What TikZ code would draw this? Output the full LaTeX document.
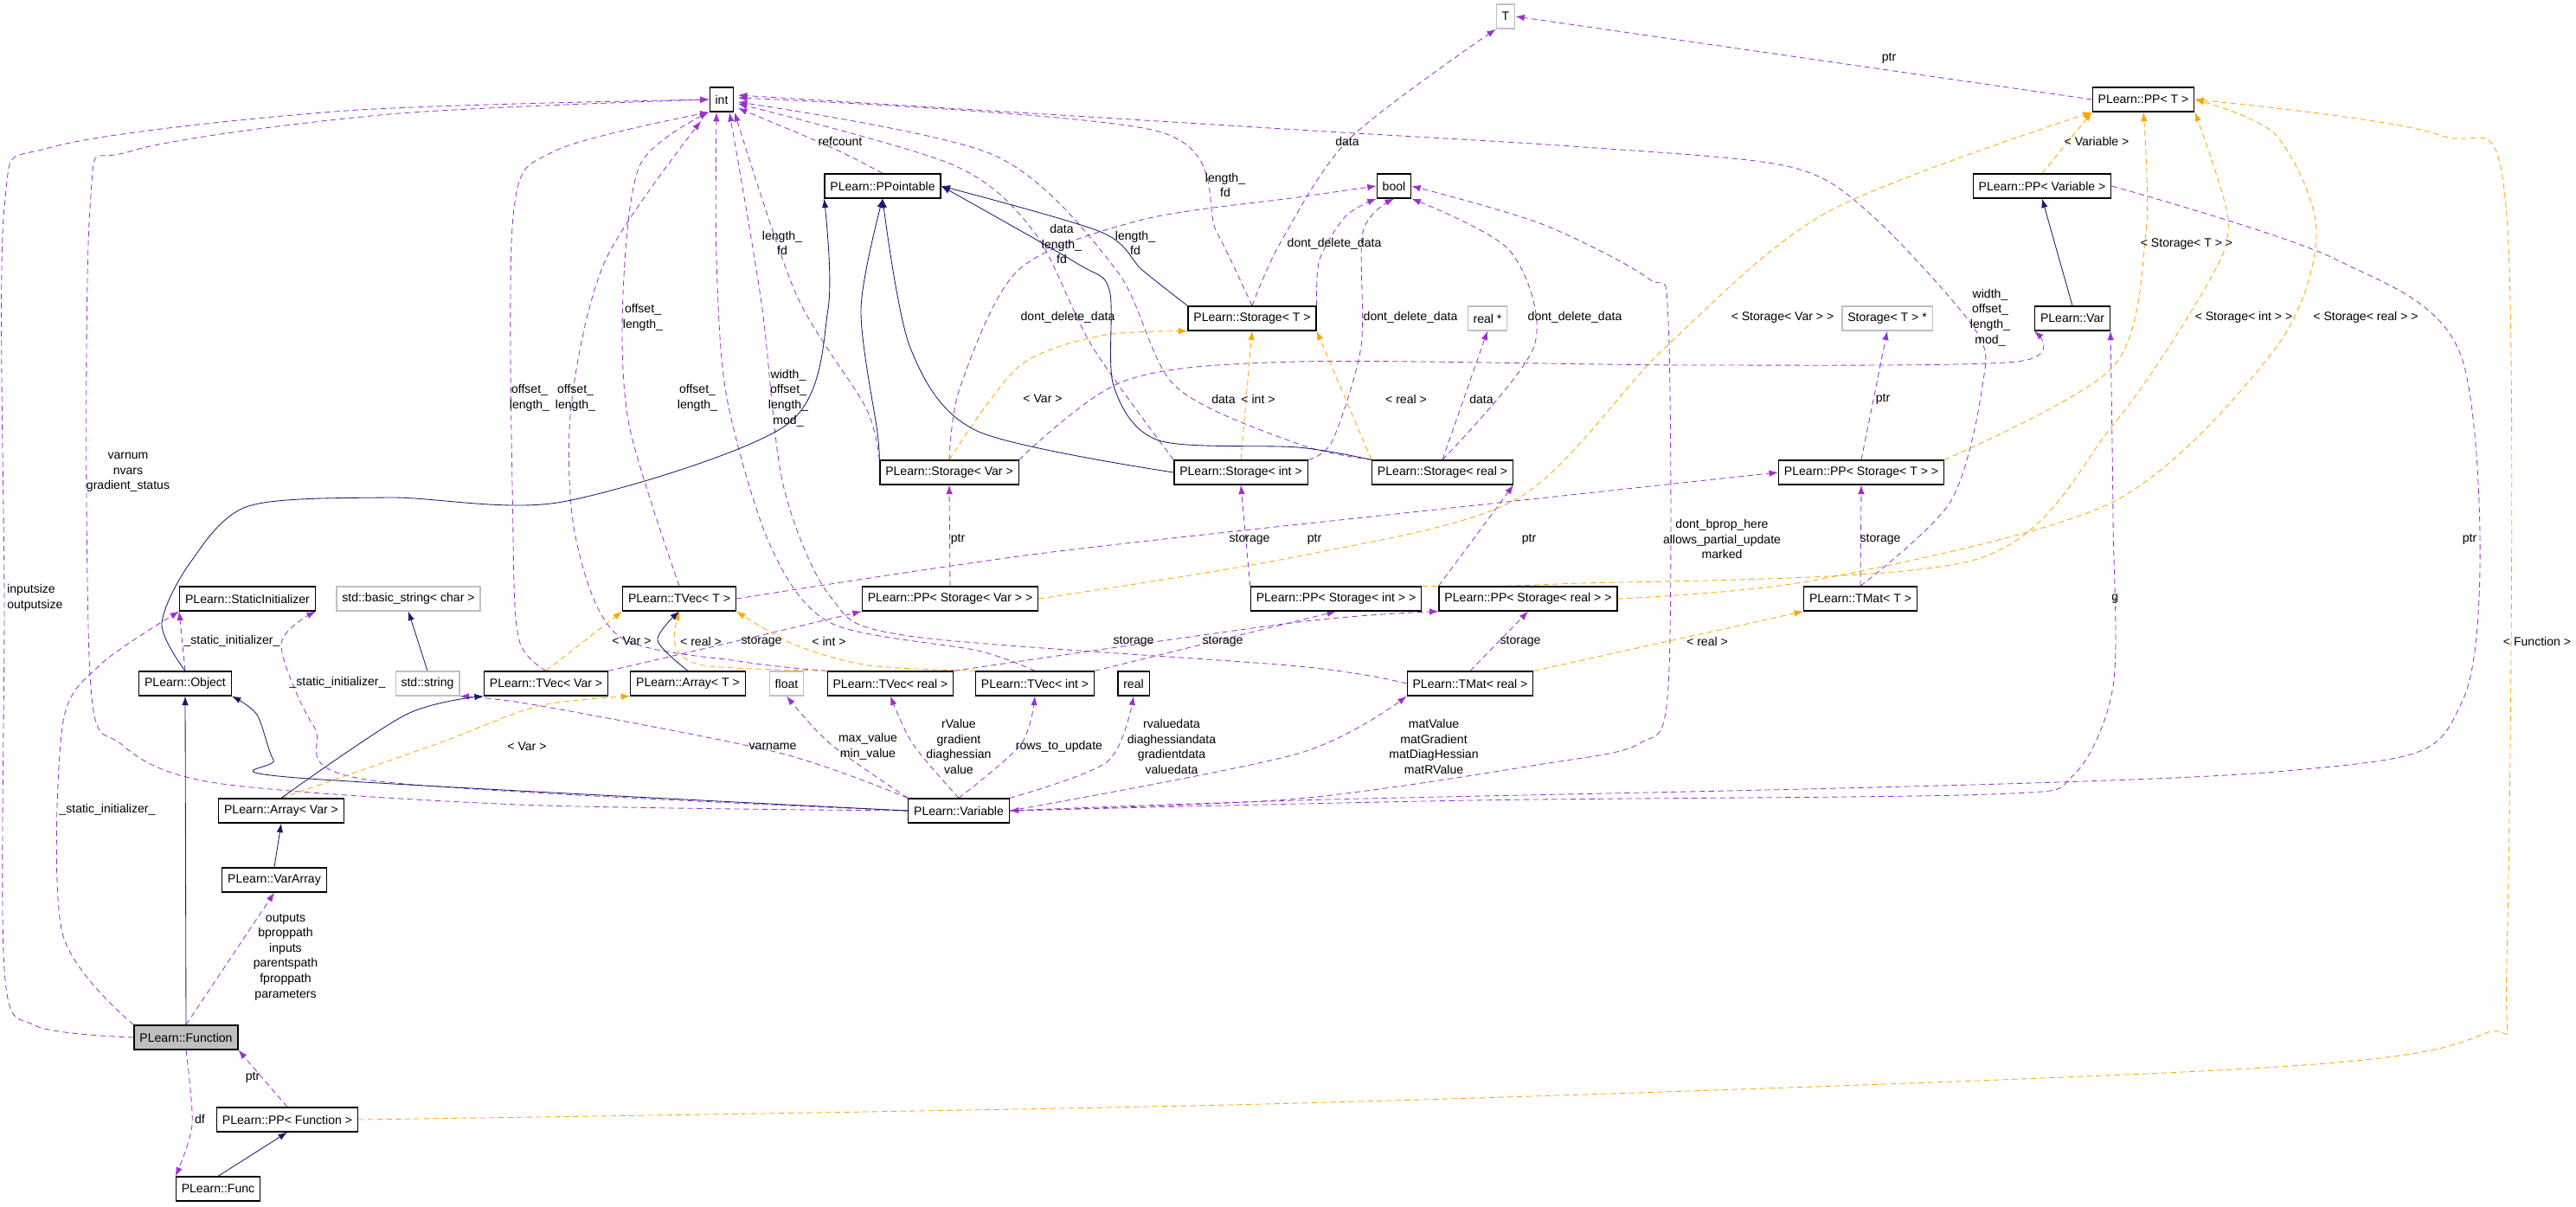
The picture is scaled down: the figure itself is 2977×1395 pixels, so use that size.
\documentclass[tikz,border=0pt]{standalone}
\usepackage{fontspec}
\setmainfont{Liberation Sans}
\usetikzlibrary{arrows.meta}
\definecolor{pc}{RGB}{154,50,205}
\definecolor{nv}{RGB}{25,25,112}
\definecolor{og}{RGB}{255,165,0}
\definecolor{gb}{RGB}{191,191,191}
\pgfdeclarelayer{edges}
\pgfsetlayers{edges,main}
\begin{document}
\begin{tikzpicture}[x=0.25mm,y=-0.25mm,
  font=\fontsize{10}{12.5}\selectfont,
  cls/.style={draw=black,line width=0.9pt,fill=white,minimum height=7mm,inner xsep=1.6mm},
  gcls/.style={draw=gb,line width=0.9pt,fill=white,minimum height=7mm,inner xsep=1.6mm},
  pe/.style={draw=pc,dashed,dash pattern=on 1.6mm off 1.1mm,line width=0.6pt,-{Latex[length=2.6mm,width=1.9mm]}},
  oe/.style={draw=og,dashed,dash pattern=on 1.6mm off 1.1mm,line width=0.6pt,-{Latex[length=2.6mm,width=1.9mm]}},
  ne/.style={draw=nv,line width=0.6pt,-{Latex[length=2.6mm,width=1.9mm]}},
  lbl/.style={align=center,inner sep=0pt},
  lbll/.style={align=left,inner sep=0pt,anchor=west}]
\useasboundingbox (0,0) rectangle (2977,1395);
% nodes
\node[cls] (int) at (834,115) {int};
\node[gcls] (T) at (1740,19) {T};
\node[cls] (ppT) at (2477,115) {PLearn::PP< T >};
\node[cls] (ppt) at (1020,215) {PLearn::PPointable};
\node[cls] (bool) at (1611,215) {bool};
\node[cls] (ppVariable) at (2360,215) {PLearn::PP< Variable >};
\node[cls] (stT) at (1447,368) {PLearn::Storage< T >};
\node[gcls] (realp) at (1719,368) {real *};
\node[gcls] (stTp) at (2181,368) {Storage< T > *};
\node[cls] (Var) at (2395,368) {PLearn::Var};
\node[cls] (stVar) at (1097,546) {PLearn::Storage< Var >};
\node[cls] (stInt) at (1434,546) {PLearn::Storage< int >};
\node[cls] (stReal) at (1667,546) {PLearn::Storage< real >};
\node[cls] (ppStT) at (2151,546) {PLearn::PP< Storage< T > >};
\node[cls] (si) at (286,692) {PLearn::StaticInitializer};
\node[gcls] (bstr) at (472,692) {std::basic\_string< char >};
\node[cls] (tvT) at (785,692) {PLearn::TVec< T >};
\node[cls] (ppStVar) at (1098,692) {PLearn::PP< Storage< Var > >};
\node[cls] (ppStInt) at (1544,692) {PLearn::PP< Storage< int > >};
\node[cls] (ppStReal) at (1766,692) {PLearn::PP< Storage< real > >};
\node[cls] (tmT) at (2150,692) {PLearn::TMat< T >};
\node[cls] (obj) at (214,790) {PLearn::Object};
\node[gcls] (str) at (494,790) {std::string};
\node[cls] (tvVar) at (631,790) {PLearn::TVec< Var >};
\node[cls] (arrT) at (795,790) {PLearn::Array< T >};
\node[gcls] (float) at (909,790) {float};
\node[cls] (tvReal) at (1029,790) {PLearn::TVec< real >};
\node[cls] (tvInt) at (1196,790) {PLearn::TVec< int >};
\node[cls] (real) at (1310,790) {real};
\node[cls] (tmReal) at (1699,790) {PLearn::TMat< real >};
\node[cls] (arrVar) at (325,937) {PLearn::Array< Var >};
\node[cls] (variable) at (1108,937) {PLearn::Variable};
\node[cls] (varArray) at (317,1017) {PLearn::VarArray};
\node[cls,fill=gb] (func) at (215,1199) {PLearn::Function};
\node[cls] (ppFunc) at (332,1294) {PLearn::PP< Function >};
\node[cls] (Func) at (252,1374) {PLearn::Func};

\begin{pgfonlayer}{edges}
% ---- purple edges ----
\draw[pe] plot[smooth,tension=0.5] coordinates {(func.west) (40,1185) (5,1120) (5,700) (5,240) (60,170) (400,128) (int.west)};
\draw[pe] plot[smooth,tension=0.5] coordinates {(variable.west) (600,930) (250,905) (140,860) (104,780) (104,240) (150,175) (450,132) (int.west)};
\draw[pe] plot[smooth,tension=0.5] coordinates {(tvVar.north) (600,740) (593,620) (593,250) (640,175) (int.south west)};
\draw[pe] plot[smooth,tension=0.5] coordinates {(tvReal.north west) (860,765) (715,735) (665,620) (660,470) (700,300) (810,140)};
\draw[pe] plot[smooth,tension=0.5] coordinates {(tvT.north) (727,491) (720,340) (740,190) (819,130)};
\draw[pe] plot[smooth,tension=0.5] coordinates {(tvInt.north) (1130,752) (960,720) (890,630) (840,460) (828,300) (828,130)};
\draw[pe] plot[smooth,tension=0.5] coordinates {(tmReal.west) (1500,770) (1050,735) (960,690) (905,560) (880,350) (843,130)};
\draw[pe] plot[smooth,tension=0.5] coordinates {(stVar.north west) (1000,470) (920,340) (849,130)};
\draw[pe] plot[smooth,tension=0.5] coordinates {(stInt.north west) (1262,400) (1195,268) (1100,190) (853,120)};
\draw[pe] plot[smooth,tension=0.5] coordinates {(stReal.north west) (1500,513) (1358,446) (1290,312) (1148,179) (853,118)};
\draw[pe] plot[smooth,tension=0.5] coordinates {(stT.north) (1406,268) (1339,152) (853,113)};
\draw[pe] plot[smooth,tension=0.5] coordinates {(ppt.north) (960,170) (853,125)};
\draw[pe] plot[smooth,tension=0.5] coordinates {(tmT.north) (2254,580) (2291,446) (2282,380) (2159,245) (2065,192) (1830,170) (1500,150) (853,110)};
\draw[pe] plot[smooth,tension=0.5] coordinates {(stT.north) (1480,280) (1560,160) (T.south west)};
\draw[pe] (ppT.west) -- (T.east);
\draw[pe] plot[smooth,tension=0.5] coordinates {(stVar.north) (1110,446) (1177,312) (1320,254) (1500,228) (bool.west)};
\draw[pe] plot[smooth,tension=0.5] coordinates {(stT.north east) (1525,300) (1555,250) (bool.south west)};
\draw[pe] plot[smooth,tension=0.5] coordinates {(stInt.north east) (1540,509) (1573,400) (1575,268) (bool.south)};
\draw[pe] plot[smooth,tension=0.5] coordinates {(stReal.north) (1773,400) (1745,290) (bool.south east)};
\draw[pe] (stReal.north) -- (realp.south);
\draw[pe] plot[smooth,tension=0.5] coordinates {(stVar.north east) (1300,440) (1500,418) (1960,422) (2330,418) (Var.south west)};
\draw[pe] (ppStVar.north) -- (stVar.south);
\draw[pe] (ppStInt.north west) -- (stInt.south);
\draw[pe] (ppStReal.north west) -- (stReal.south east);
\draw[pe] (ppStT.north) -- (stTp.south);
\draw[pe] plot[smooth,tension=0.5] coordinates {(tvT.east) (1200,640) (1650,590) (ppStT.west)};
\draw[pe] (tmT.north) -- (ppStT.south);
\draw[pe] plot[smooth,tension=0.5] coordinates {(ppVariable.east) (2700,300) (2847,420) (2847,807) (2630,892) (1500,925) (variable.east)};
\draw[pe] plot[smooth,tension=0.5] coordinates {(variable.east) (1700,925) (2300,918) (2395,897) (2442,793) (2442,600) (Var.south east)};
\draw[pe] plot[smooth,tension=0.5] coordinates {(variable.east) (1500,923) (1783,883) (1895,859) (1928,793) (1928,370) (1905,322) (1782,259) (bool.east)};
\draw[pe] plot[smooth,tension=0.5] coordinates {(variable.north west) (960,860) (float.south)};
\draw[pe] plot[smooth,tension=0.5] coordinates {(variable.north) (1055,860) (tvReal.south)};
\draw[pe] plot[smooth,tension=0.5] coordinates {(variable.north) (1180,860) (tvInt.south)};
\draw[pe] plot[smooth,tension=0.5] coordinates {(variable.north east) (1280,880) (real.south)};
\draw[pe] plot[smooth,tension=0.5] coordinates {(variable.east) (1500,871) (tmReal.south west)};
\draw[pe] plot[smooth,tension=0.5] coordinates {(variable.north west) (900,870) (620,815) (str.south east)};
\draw[pe] plot[smooth,tension=0.5] coordinates {(variable.west) (430,902) (363,840) (325,745) (si.south east)};
\draw[pe] (obj.north) -- (si.south west);
\draw[pe] plot[smooth,tension=0.5] coordinates {(func.north west) (72,1078) (72,840) (115,769) (si.south west)};
\draw[pe] (func.north) -- (varArray.south);
\draw[pe] (ppFunc.north) -- (func.south east);
\draw[pe] plot[smooth,tension=0.5] coordinates {(func.south) (222,1300) (Func.north west)};
\draw[pe] plot[smooth,tension=0.5] coordinates {(tvVar.north east) (855,740) (ppStVar.south west)};
\draw[pe] plot[smooth,tension=0.5] coordinates {(tvReal.north east) (1500,719) (ppStReal.south west)};
\draw[pe] (tvInt.north east) -- (ppStInt.south);
\draw[pe] (tmReal.north) -- (ppStReal.south);

% ---- orange edges ----
\draw[oe] (ppVariable.north) -- (ppT.south west);
\draw[oe] plot[smooth,tension=0.5] coordinates {(ppStT.north east) (2442,424) (2480,268) (ppT.south)};
\draw[oe] plot[smooth,tension=0.5] coordinates {(ppStVar.east) (1500,643) (1754,576) (1924,402) (2112,245) (ppT.south west)};
\draw[oe] plot[smooth,tension=0.5] coordinates {(ppStInt.north east) (1800,675) (2282,647) (2442,491) (2550,330) (2575,255) (ppT.south east)};
\draw[oe] plot[smooth,tension=0.5] coordinates {(ppStReal.east) (2100,670) (2442,580) (2630,402) (2677,268) (2630,156) (ppT.east)};
\draw[oe] plot[smooth,tension=0.5] coordinates {(ppFunc.east) (1500,1275) (2600,1235) (2870,1195) (2897,1110) (2897,250) (2819,156) (ppT.east)};
\draw[oe] (tvVar.north) -- (tvT.south west);
\draw[oe] plot[smooth,tension=0.5] coordinates {(tvReal.north west) (813,769) (780,745) (tvT.south)};
\draw[oe] plot[smooth,tension=0.5] coordinates {(tvInt.north west) (1004,769) (918,745) (tvT.south east)};
\draw[oe] plot[smooth,tension=0.5] coordinates {(arrVar.north) (507,859) (622,816) (arrT.south west)};
\draw[oe] plot[smooth,tension=0.5] coordinates {(stVar.north) (1177,424) (1272,388) (stT.south west)};
\draw[oe] (stInt.north) -- (stT.south);
\draw[oe] (stReal.north west) -- (stT.south east);
\draw[oe] (tmReal.north east) -- (tmT.south west);

% ---- navy edges ----
\draw[ne] plot[smooth,tension=0.5] coordinates {(obj.north) (187,721) (220,650) (287,585) (450,575) (650,580) (909,491) (957,357) (ppt.south west)};
\draw[ne] plot[smooth,tension=0.5] coordinates {(stVar.north west) (1014,500) (995,357) (ppt.south)};
\draw[ne] plot[smooth,tension=0.5] coordinates {(stInt.west) (1129,498) (1052,402) (ppt.south)};
\draw[ne] plot[smooth,tension=0.5] coordinates {(stReal.north west) (1500,517) (1339,509) (1287,446) (1282,335) (1244,304) (ppt.east)};
\draw[ne] plot[smooth,tension=0.5] coordinates {(stT.north west) (1320,312) (1272,268) (ppt.east)};
\draw[ne] (func.north) -- (obj.south);
\draw[ne] plot[smooth,tension=0.5] coordinates {(variable.west) (344,899) (316,878) (297,826) (obj.south east)};
\draw[ne] plot[smooth,tension=0.5] coordinates {(arrVar.north) (469,826) (tvVar.south west)};
\draw[ne] (varArray.north) -- (arrVar.south);
\draw[ne] plot[smooth,tension=0.5] coordinates {(arrT.north) (760,740) (tvT.south)};
\draw[ne] (str.north) -- (bstr.south);
\draw[ne] (Var.north) -- (ppVariable.south);
\draw[ne] (Func.north) -- (ppFunc.south);
\end{pgfonlayer}

% ---- labels ----
\node[lbll] (l1) at (8,691) {inputsize\\outputsize};
\node[lbl] (l2) at (148,546) {varnum\\nvars\\gradient\_status};
\node[lbl] (l3) at (612,460) {offset\_\\length\_};
\node[lbl] (l4) at (665,460) {offset\_\\length\_};
\node[lbl] (l5) at (743,367) {offset\_\\length\_};
\node[lbl] (l6) at (806,460) {offset\_\\length\_};
\node[lbl] (l7) at (911,460) {width\_\\offset\_\\length\_\\mod\_};
\node[lbl] (l8) at (904,281) {length\_\\fd};
\node[lbl] (l9) at (1227,282) {data\\length\_\\fd};
\node[lbl] (l10) at (1312,281) {length\_\\fd};
\node[lbl] (l11) at (1416,214) {length\_\\fd};
\node[lbl] (l12) at (971,163) {refcount};
\node[lbl] (l13) at (2300,367) {width\_\\offset\_\\length\_\\mod\_};
\node[lbl] (l14) at (1557,163) {data};
\node[lbl] (l15) at (2183,67) {ptr};
\node[lbl] (l16) at (1234,367) {dont\_delete\_data};
\node[lbl] (l17) at (1542,282) {dont\_delete\_data};
\node[lbl] (l18) at (1630,367) {dont\_delete\_data};
\node[lbl] (l19) at (1820,367) {dont\_delete\_data};
\node[lbl] (l20) at (1712,461) {data};
\node[lbl] (l21) at (1414,461) {data};
\node[lbl] (l22) at (1205,461) {< Var >};
\node[lbl] (l23) at (1454,461) {< int >};
\node[lbl] (l24) at (1625,461) {< real >};
\node[lbl] (l25) at (1107,623) {ptr};
\node[lbl] (l26) at (1519,623) {ptr};
\node[lbl] (l27) at (1767,623) {ptr};
\node[lbl] (l28) at (2176,461) {ptr};
\node[lbl] (l29) at (1444,623) {storage};
\node[lbl] (l30) at (2173,623) {storage};
\node[lbl] (l31) at (2854,623) {ptr};
\node[lbll] (l32) at (2440,692) {g};
\node[lbl] (l33) at (1990,623) {dont\_bprop\_here\\allows\_partial\_update\\marked};
\node[lbl] (l34) at (1003,863) {max\_value\\min\_value};
\node[lbl] (l35) at (1108,863) {rValue\\gradient\\diaghessian\\value};
\node[lbl] (l36) at (1224,863) {rows\_to\_update};
\node[lbl] (l37) at (1354,863) {rvaluedata\\diaghessiandata\\gradientdata\\valuedata};
\node[lbl] (l38) at (1657,863) {matValue\\matGradient\\matDiagHessian\\matRValue};
\node[lbl] (l39) at (893,863) {varname};
\node[lbl] (l40) at (390,789) {\_static\_initializer\_};
\node[lbl] (l41) at (268,741) {\_static\_initializer\_};
\node[lbl] (l42) at (124,936) {\_static\_initializer\_};
\node[lbl] (l43) at (330,1106) {outputs\\bproppath\\inputs\\parentspath\\fproppath\\parameters};
\node[lbl] (l44) at (292,1245) {ptr};
\node[lbl] (l45) at (231,1293) {df};
\node[lbl] (l46) at (880,741) {storage};
\node[lbl] (l47) at (1310,741) {storage};
\node[lbl] (l48) at (1413,741) {storage};
\node[lbl] (l49) at (1757,741) {storage};
\node[lbl] (l50) at (2423,163) {< Variable >};
\node[lbl] (l51) at (2527,282) {< Storage< T > >};
\node[lbl] (l52) at (2060,367) {< Storage< Var > >};
\node[lbl] (l53) at (2593,367) {< Storage< int > >};
\node[lbl] (l54) at (2734,367) {< Storage< real > >};
\node[lbl] (l55) at (2932,741) {< Function >};
\node[lbl] (l56) at (730,741) {< Var >};
\node[lbl] (l57) at (810,741) {< real >};
\node[lbl] (l58) at (958,741) {< int >};
\node[lbl] (l59) at (609,863) {< Var >};
\node[lbl] (l60) at (1973,741) {< real >};
\end{tikzpicture}
\end{document}
